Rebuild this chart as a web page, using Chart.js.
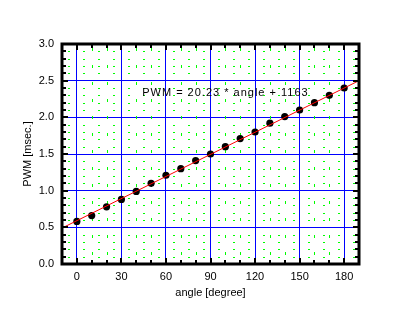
<!DOCTYPE html>
<html>
<head>
<meta charset="utf-8">
<script src="https://cdn.jsdelivr.net/npm/chart.js@4"></script>
<style>
  html, body { margin: 0; padding: 0; background: #fff; }
</style>
</head>
<body>
<canvas id="chart" width="403" height="324"></canvas>
<script>
const angles = [0, 10, 20, 30, 40, 50, 60, 70, 80, 90, 100, 110, 120, 130, 140, 150, 160, 170, 180]
const pwm = [0.58, 0.66, 0.78, 0.88, 0.99, 1.10, 1.21, 1.30, 1.41, 1.50, 1.60, 1.71, 1.80, 1.92, 2.01, 2.10, 2.20, 2.30, 2.40]
const fitAngles = [-10, 190]
const fitPwm = [0.49, 2.50]
const xTickValues = [0, 30, 60, 90, 120, 150, 180]
const fitLabel = 'PWM = 20.23 * angle + 1163'

const FONT = 'Liberation Sans'

// green dotted minor grid, under the marks
const minorGrid = {
  id: 'minorGrid',
  beforeDatasetsDraw (chart) {
    const { ctx, chartArea: a, scales: { x, y } } = chart
    ctx.save()
    ctx.strokeStyle = '#00ff00'
    ctx.lineWidth = 1
    for (let v = -10; v <= 190; v += 10) {
      if (v % 30 === 0) continue
      const px = Math.round(x.getPixelForValue(v)) + 0.5
      ctx.setLineDash([3, 14])
      ctx.beginPath(); ctx.moveTo(px, a.top + 4); ctx.lineTo(px, a.bottom); ctx.stroke()
    }
    for (let i = 1; i < 30; i++) {
      if (i % 5 === 0) continue
      const py = Math.round(y.getPixelForValue(i / 10)) + 0.5
      ctx.setLineDash([2, 13])
      ctx.beginPath(); ctx.moveTo(a.left + 6, py); ctx.lineTo(a.right, py); ctx.stroke()
    }
    ctx.restore()
  }
}

// thick frame with inward ticks on all four sides, plus the fit label
const frame = {
  id: 'frame',
  afterDraw (chart) {
    const { ctx, chartArea: a, scales: { x, y } } = chart
    ctx.save()
    ctx.strokeStyle = '#000'
    ctx.lineWidth = 2
    for (let v = -10; v <= 190; v += 10) {
      const px = Math.round(x.getPixelForValue(v))
      const len = v % 30 === 0 ? 6 : 4
      ctx.beginPath()
      ctx.moveTo(px, a.bottom); ctx.lineTo(px, a.bottom - len)
      ctx.moveTo(px, a.top); ctx.lineTo(px, a.top + len)
      ctx.stroke()
    }
    for (let i = 0; i <= 30; i++) {
      const py = Math.round(y.getPixelForValue(i / 10))
      const len = i % 5 === 0 ? 6 : 4
      ctx.beginPath()
      ctx.moveTo(a.left, py); ctx.lineTo(a.left + len, py)
      ctx.moveTo(a.right, py); ctx.lineTo(a.right - len, py)
      ctx.stroke()
    }
    ctx.lineWidth = 3
    ctx.strokeRect(a.left, a.top, a.right - a.left, a.bottom - a.top)

    ctx.fillStyle = '#000'
    ctx.font = '11px "' + FONT + '"'
    ctx.letterSpacing = '1px'
    ctx.textAlign = 'left'
    ctx.textBaseline = 'middle'
    ctx.fillText(fitLabel, x.getPixelForValue(44), y.getPixelForValue(2.33))
    ctx.restore()
  }
}

new Chart(document.getElementById('chart'), {
  type: 'scatter',
  data: {
    datasets: [
      {
        data: fitAngles.map((a, i) => ({ x: a, y: fitPwm[i] })),
        showLine: true,
        borderColor: '#ff0000',
        borderWidth: 1,
        pointRadius: 0
      },
      {
        data: angles.map((a, i) => ({ x: a, y: pwm[i] })),
        backgroundColor: '#000',
        borderColor: '#000',
        pointRadius: 3.6,
        pointBorderWidth: 0
      }
    ]
  },
  options: {
    responsive: false,
    animation: false,
    layout: { padding: { top: 44, right: 44, left: 0, bottom: 0 } },
    plugins: { legend: { display: false }, tooltip: { enabled: false } },
    scales: {
      x: {
        type: 'linear',
        min: -10,
        max: 190,
        afterBuildTicks: (s) => { s.ticks = xTickValues.map(v => ({ value: v })) },
        afterFit: (s) => { s.height = 60 },
        grid: { color: '#0000ff', lineWidth: 1, drawTicks: false },
        border: { display: false },
        ticks: { padding: 6, color: '#000', font: { family: FONT, size: 11 } },
        title: {
          display: true,
          text: 'angle [degree]',
          color: '#000',
          font: { family: FONT, size: 11 },
          padding: { top: 0, bottom: 24 }
        }
      },
      y: {
        min: 0,
        max: 3,
        afterFit: (s) => { s.width = 62 },
        grid: { color: '#0000ff', lineWidth: 1, drawTicks: false },
        border: { display: false },
        ticks: {
          stepSize: 0.5,
          padding: 8,
          color: '#000',
          font: { family: FONT, size: 11 },
          callback: (v) => v.toFixed(1)
        },
        title: {
          display: true,
          text: 'PWM [msec.]',
          color: '#000',
          font: { family: FONT, size: 11 },
          padding: { top: 21, bottom: 0 }
        }
      }
    }
  },
  plugins: [minorGrid, frame]
})
</script>
</body>
</html>
